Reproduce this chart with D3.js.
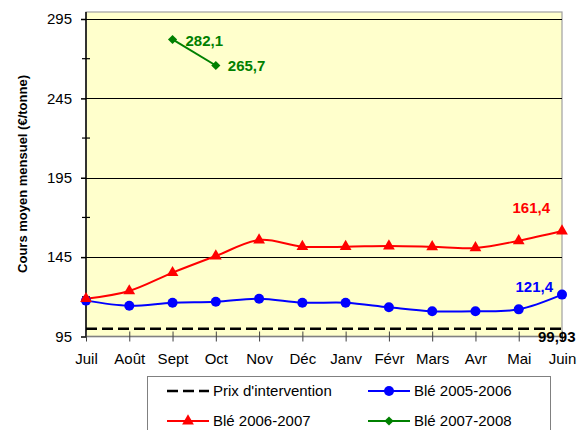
<!DOCTYPE html>
<html>
<head>
<meta charset="utf-8">
<script src="https://cdn.jsdelivr.net/npm/d3@7"></script>
<style>
  body { margin: 0; background: #fff; }
  text { font-family: "Liberation Sans", Arial, sans-serif; }
</style>
</head>
<body>
<div id="vis"></div>
<script>
// chart data
var months = ["Juil", "Août", "Sept", "Oct", "Nov", "Déc", "Janv", "Févr", "Mars", "Avr", "Mai", "Juin"];
var ble0506 = [117.6, 114.4, 116.3, 116.9, 118.8, 116.3, 116.3, 113.4, 110.9, 110.9, 112.1, 121.4];
var ble0607 = [118.8, 123.7, 135.2, 145.7, 155.8, 151.6, 151.6, 152.0, 151.5, 150.8, 155.3, 161.4];
var ble0708 = [282.1, 265.7];
var ble0708Months = ["Sept", "Oct"];
var prixIntervention = 99.93;
var yTicks = [95, 145, 195, 245, 295];
var yMinorTicks = [120, 170, 220, 270];

var width = 586, height = 430;
var plotLeft = 86, plotRight = 562, plotTop = 12, plotBottom = 336.5;

var svg = d3.select("#vis").append("svg")
    .attr("width", width)
    .attr("height", height);

var x = d3.scalePoint().domain(months).range([plotLeft, plotRight]);
var y = d3.scaleLinear().domain([95, 295]).range([plotBottom, 19]);

// plot background
svg.append("rect")
    .attr("x", plotLeft).attr("y", plotTop)
    .attr("width", plotRight - plotLeft).attr("height", plotBottom - plotTop)
    .attr("fill", "#ffffcc")
    .attr("stroke", "#a0a0a0")
    .attr("stroke-width", 1.2);

// gridlines
svg.selectAll(".grid").data(yTicks.slice(1)).enter().append("line")
    .attr("x1", plotLeft).attr("x2", plotRight)
    .attr("y1", function(d) { return Math.round(y(d)) + 0.5; })
    .attr("y2", function(d) { return Math.round(y(d)) + 0.5; })
    .attr("stroke", "#000").attr("stroke-width", 1);

// y axis
var yAxis = d3.axisLeft(y).tickValues(yTicks).tickSize(5).tickPadding(9);
var gy = svg.append("g").attr("transform", "translate(" + plotLeft + ",0)").call(yAxis);
gy.select(".domain").attr("stroke", "#000").attr("stroke-width", 1.5).attr("d", "M0," + plotTop + "V" + plotBottom);
gy.selectAll(".tick line").attr("stroke", "#000").attr("stroke-width", 1.5);
gy.selectAll(".tick text").attr("font-size", 15).attr("fill", "#000").style("font-family", "Liberation Sans, Arial");
svg.selectAll(".minor").data(yMinorTicks).enter().append("line")
    .attr("x1", plotLeft - 4).attr("x2", plotLeft + 4)
    .attr("y1", function(d) { return y(d); })
    .attr("y2", function(d) { return y(d); })
    .attr("stroke", "#000").attr("stroke-width", 1.2);

// x axis
var xAxis = d3.axisBottom(x).tickSize(5).tickPadding(12);
var gx = svg.append("g").attr("transform", "translate(0," + plotBottom + ")").call(xAxis);
gx.select(".domain").attr("stroke", "#808080").attr("stroke-width", 1.5).attr("d", "M" + plotLeft + ",0H" + plotRight);
gx.selectAll(".tick line").attr("stroke", "#404040").attr("y1", -5).attr("y2", 5);
gx.selectAll(".tick text").attr("font-size", 15).attr("fill", "#000").style("font-family", "Liberation Sans, Arial");

// y title
svg.append("text")
    .attr("transform", "translate(27,174) rotate(-90)")
    .attr("text-anchor", "middle")
    .attr("font-size", 13).attr("font-weight", "bold")
    .text("Cours moyen mensuel (€/tonne)");

// intervention price
svg.append("line")
    .attr("x1", plotLeft).attr("x2", plotRight)
    .attr("y1", y(prixIntervention)).attr("y2", y(prixIntervention))
    .attr("stroke", "#000").attr("stroke-width", 2.5)
    .attr("stroke-dasharray", "11,5");

var curve = d3.curveCatmullRom.alpha(0);
var line = d3.line()
    .x(function(d) { return x(d.m); })
    .y(function(d) { return y(d.v); })
    .curve(curve);

function series(vals, ms) {
    return vals.map(function(v, i) { return { m: ms[i], v: v }; });
}

var s0506 = series(ble0506, months);
var s0607 = series(ble0607, months);
var s0708 = series(ble0708, ble0708Months);

svg.append("path").datum(s0506).attr("d", line)
    .attr("fill", "none").attr("stroke", "#0000ff").attr("stroke-width", 2);
svg.append("path").datum(s0607).attr("d", line)
    .attr("fill", "none").attr("stroke", "#ff0000").attr("stroke-width", 2);
svg.append("path").datum(s0708).attr("d", line)
    .attr("fill", "none").attr("stroke", "#008000").attr("stroke-width", 2);

var tri = d3.symbol().type(d3.symbolTriangle).size(60);
var dia = d3.symbol().type(d3.symbolSquare).size(42);

svg.selectAll(".c0506").data(s0506).enter().append("circle")
    .attr("cx", function(d) { return x(d.m); })
    .attr("cy", function(d) { return y(d.v); })
    .attr("r", 5).attr("fill", "#0000ff");
svg.selectAll(".t0607").data(s0607).enter().append("path")
    .attr("d", tri)
    .attr("transform", function(d) { return "translate(" + x(d.m) + "," + y(d.v) + ")"; })
    .attr("fill", "#ff0000");
svg.selectAll(".d0708").data(s0708).enter().append("path")
    .attr("d", dia)
    .attr("transform", function(d) { return "translate(" + x(d.m) + "," + y(d.v) + ") rotate(45)"; })
    .attr("fill", "#008000");

// data labels
function label(txt, px, py, color, anchor) {
    svg.append("text")
        .attr("x", px).attr("y", py)
        .attr("dy", "0.35em")
        .attr("text-anchor", anchor || "start")
        .attr("font-size", 15).attr("font-weight", "bold")
        .attr("fill", color)
        .text(txt);
}
var fmt = function(v) { return String(v).replace(".", ","); };
label(fmt(ble0708[0]), x("Sept") + 13, y(ble0708[0]) + 1, "#008000");
label(fmt(ble0708[1]), x("Oct") + 12, y(ble0708[1]), "#008000");
label(fmt(ble0607[11]), x("Juin") - 12, y(ble0607[11]) - 23, "#ff0000", "end");
label(fmt(ble0506[11]), x("Juin") - 9, y(ble0506[11]) - 8, "#0000ff", "end");
label(fmt(prixIntervention), x("Juin") - 24, y(prixIntervention) + 8, "#000");

// legend
var lg = svg.append("g");
lg.append("rect")
    .attr("x", 147.5).attr("y", 376.5)
    .attr("width", 403).attr("height", 70)
    .attr("fill", "#fff").attr("stroke", "#808080").attr("stroke-width", 1);

var legendItems = [
    { name: "Prix d'intervention", col: 0, row: 0, color: "#000", type: "dash" },
    { name: "Blé 2005-2006", col: 1, row: 0, color: "#0000ff", type: "circle" },
    { name: "Blé 2006-2007", col: 0, row: 1, color: "#ff0000", type: "tri" },
    { name: "Blé 2007-2008", col: 1, row: 1, color: "#008000", type: "dia" }
];
var colX = [167, 368], rowY = [391, 421];
legendItems.forEach(function(it) {
    var lx = colX[it.col], ly = rowY[it.row];
    var ln = lg.append("line")
        .attr("x1", lx).attr("x2", lx + 42)
        .attr("y1", ly).attr("y2", ly)
        .attr("stroke", it.color);
    if (it.type === "dash") {
        ln.attr("stroke-width", 2.5).attr("stroke-dasharray", "11,5");
    } else {
        ln.attr("stroke-width", 2);
    }
    var mx = lx + 21;
    if (it.type === "circle") {
        lg.append("circle").attr("cx", mx).attr("cy", ly).attr("r", 5).attr("fill", it.color);
    } else if (it.type === "tri") {
        lg.append("path").attr("d", tri).attr("transform", "translate(" + mx + "," + ly + ")").attr("fill", it.color);
    } else if (it.type === "dia") {
        lg.append("path").attr("d", dia).attr("transform", "translate(" + mx + "," + ly + ") rotate(45)").attr("fill", it.color);
    }
    lg.append("text")
        .attr("x", lx + 46).attr("y", ly)
        .attr("dy", "0.35em")
        .attr("font-size", 15)
        .text(it.name);
});
</script>
</body>
</html>
